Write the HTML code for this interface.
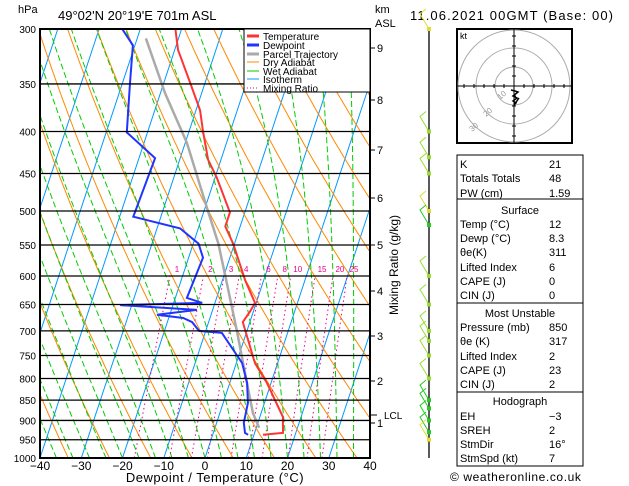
<!DOCTYPE html>
<html><head><meta charset="utf-8">
<style>
body{margin:0;background:#fff;}
svg{display:block;font-family:"Liberation Sans",sans-serif;}
</style></head>
<body>
<svg id="c" width="629" height="486" viewBox="0 0 629 486" xmlns="http://www.w3.org/2000/svg">
<defs><clipPath id="pc"><rect x="40" y="29" width="330" height="429"/></clipPath>
<clipPath id="hc"><rect x="457" y="29" width="115" height="114"/></clipPath></defs>
<g id="bg" clip-path="url(#pc)"></g>
<g id="iso" clip-path="url(#pc)"></g>
<g id="series" clip-path="url(#pc)"></g>
<g id="axes"></g>
<text x="18" y="13" font-size="11">hPa</text>
<text x="58" y="20" font-size="13">49°02'N  20°19'E  701m  ASL</text>
<text x="375" y="13" font-size="11">km</text>
<text x="375" y="27" font-size="11">ASL</text>
<text x="410" y="20" font-size="13" letter-spacing="1.1">11.06.2021  00GMT  (Base: 00)</text>
<text x="215" y="482" font-size="13" letter-spacing="0.5" text-anchor="middle">Dewpoint / Temperature (°C)</text>
<text transform="translate(398,265) rotate(-90)" font-size="12" text-anchor="middle">Mixing Ratio (g/kg)</text>
<g>
<rect x="244" y="29" width="126" height="63" fill="#fff" stroke="#000"/>
<line x1="247" y1="36" x2="259" y2="36" stroke="#f33" stroke-width="3"/><text x="263" y="40" font-size="10">Temperature</text>
<line x1="247" y1="45" x2="259" y2="45" stroke="#23f" stroke-width="3"/><text x="263" y="49" font-size="10">Dewpoint</text>
<line x1="247" y1="54" x2="259" y2="54" stroke="#aaa" stroke-width="3"/><text x="263" y="58" font-size="10">Parcel Trajectory</text>
<line x1="247" y1="62" x2="259" y2="62" stroke="#f80" stroke-width="1"/><text x="263" y="66" font-size="10">Dry Adiabat</text>
<line x1="247" y1="71" x2="259" y2="71" stroke="#0c0" stroke-width="1"/><text x="263" y="75" font-size="10">Wet Adiabat</text>
<line x1="247" y1="79" x2="259" y2="79" stroke="#09f" stroke-width="1"/><text x="263" y="83" font-size="10">Isotherm</text>
<line x1="247" y1="88" x2="259" y2="88" stroke="#e08" stroke-dasharray="1,2"/><text x="263" y="92" font-size="10">Mixing Ratio</text>
</g>
<g id="winds"></g>
<g>
<rect x="457" y="29" width="115" height="114" fill="#fff" stroke="#000" stroke-width="2"/>
<g clip-path="url(#hc)" fill="none" stroke="#aaa">
<circle cx="514" cy="86" r="19"/><circle cx="514" cy="86" r="38"/><circle cx="514" cy="86" r="56"/>
</g>
<line x1="457" y1="86" x2="572" y2="86" stroke="#000"/><line x1="514" y1="29" x2="514" y2="143" stroke="#000"/>
<g id="hticks" stroke="#000"></g>
<text x="460" y="39" font-size="9">kt</text>
<text transform="translate(500,100) rotate(-40)" font-size="8" fill="#999">10</text>
<text transform="translate(486,117) rotate(-40)" font-size="8" fill="#999">20</text>
<text transform="translate(472,132) rotate(-40)" font-size="8" fill="#999">30</text>
<polyline points="511,90 515,91 518,92 513,96 517,98 513,101 516,103 514,105 519,98" fill="none" stroke="#000" stroke-width="1.5"/>
</g>
<g id="tbl" font-size="11"></g>
<text x="450" y="481" font-size="12" letter-spacing="0.6">© weatheronline.co.uk</text>
<script>
// ---- data ----
const tempP=[300,318,349,377,399,433,455,502,522,548,607,647,663,683,718,766,810,891,932,937];
const tempT=[-41.5,-39.2,-33.6,-29.0,-26.7,-23.1,-19.6,-13.6,-13.6,-10.3,-4.5,-0.3,-0.8,-1.7,1.0,4.5,9.0,15.6,16.9,12.2];
const dewP=[300,314,349,401,431,508,525,548,570,638,647,651,660,669,675,683,700,704,766,810,857,906,932,937];
const dewT=[-54.4,-50.5,-48.2,-45.0,-36.1,-36.7,-24.4,-18.7,-16.5,-17.2,-13.1,-32.8,-13.8,-23.1,-16.5,-14.0,-11.6,-5.9,1.4,4.2,6.0,6.6,7.7,8.6];
const parcelP=[308,359,413,495,548,612,702,788,881,919];
const parcelT=[-47.9,-38.9,-29.6,-19.6,-13.9,-8.7,-2.3,2.9,8.0,10.7];
const pressureTicks=[300,350,400,450,500,550,600,650,700,750,800,850,900,950,1000];
const tempTicks=[-40,-30,-20,-10,0,10,20,30,40];
const kmTicks=[1,2,3,4,5,6,7,8,9];
const kmY=[423,381,336,291,245,198,150,100,48];
const mixRatios=[1,2,3,4,6,8,10,15,20,25];
const windP=[300,400,430,450,500,520,600,650,700,720,750,800,850,870,900,930,950];
const windColor=['#dd3','#9d3','#9d3','#9d3','#dd3','#2c2','#9d3','#9d3','#9d3','#9d3','#9d3','#9d3','#2c2','#2c2','#2c2','#2c2','#dd3'];
// ---- axes ----
const NS='http://www.w3.org/2000/svg';
const yOf=p=>29+Math.log(p/300)/Math.log(1000/300)*429;
const xOf=(T,p)=>40+(T+40)*4.125+(458-yOf(p))*0.33;
function mk(parent,tag,attrs){const e=document.createElementNS(NS,tag);for(const k in attrs)e.setAttribute(k,attrs[k]);document.getElementById(parent).appendChild(e);return e;}
function poly(parent,pts,stroke,w,dash,name){const e=mk(parent,'polyline',{points:pts.map(q=>q[0].toFixed(1)+','+q[1].toFixed(1)).join(' '),fill:'none',stroke:stroke,'stroke-width':w});if(dash)e.setAttribute('stroke-dasharray',dash);

return e;}
const ps=[];for(let p=1000;p>=300;p-=5)ps.push(p);
// isotherms
for(let T=-110;T<=40;T+=10){poly('bg',[[xOf(T,1000),yOf(1000)],[xOf(T,300),yOf(300)]],'#09f',1,null,'isotherm');}
// dry adiabats
for(let th=230;th<=480;th+=10){poly('bg',ps.map(p=>[xOf(th*Math.pow(p/1000,0.286)-273.15,p),yOf(p)]),'#f80',1,null,'dry-adiabat');}
// wet adiabats
function es(T){return 6.112*Math.exp(17.67*T/(T+243.5));}
for(let T0=-36;T0<=40;T0+=4){let T=T0+273.15,pts=[];for(let p=1000;p>=300;p-=5){pts.push([xOf(T-273.15,p),yOf(p)]);const rs=0.622*es(T-273.15)/(p-es(T-273.15));const dTdp=(287*T+2.5e6*rs)/(1004+2.5e6*2.5e6*rs*0.622/(287*T*T))/p;T-=dTdp*5;}
poly('bg',pts,'#0c0',1,'6,3','wet-adiabat');}
// mixing ratio
mixRatios.forEach(w=>{const pts=[];for(let p=1000;p>=600;p-=10){const e=w*p/(622+w);const l=Math.log(e/6.112);pts.push([xOf(243.5*l/(17.67-l),p),yOf(p)]);}
poly('bg',pts,'#e08',1,'1.5,3','mixing-ratio-line');
const t=mk('iso','text',{x:pts[pts.length-1][0]+7,y:272,'font-size':8,fill:'#e08','text-anchor':'middle'});t.textContent=w;

});
// pressure lines
pressureTicks.forEach(p=>{const l=mk('axes','line',{x1:40,x2:370,y1:yOf(p),y2:yOf(p),stroke:'#000','stroke-width':1.3});


const t=mk('axes','text',{x:36,y:yOf(p)+4,'font-size':10,'text-anchor':'end'});t.textContent=p;

});
tempTicks.forEach(T=>{const t=mk('axes','text',{x:40+(T+40)*4.125,y:470,'font-size':12,'text-anchor':'middle'});t.textContent=T===0?'0':(T<0?'\u2212'+(-T):T);

});
kmTicks.forEach((k,i)=>{mk('axes','line',{x1:370,x2:375,y1:kmY[i],y2:kmY[i],stroke:'#000'});const t=mk('axes','text',{x:377,y:kmY[i]+4,'font-size':11});t.textContent=k;

});
mk('axes','line',{x1:370,x2:377,y1:415,y2:415,stroke:'#000'});
const lcl=mk('axes','text',{x:384,y:419,'font-size':10});lcl.textContent='LCL';


const fr=mk('axes','rect',{x:40,y:29,width:330,height:429,fill:'none',stroke:'#000','stroke-width':2});


// series
poly('series',parcelP.map((p,i)=>[xOf(parcelT[i],p),yOf(p)]),'#aaa',2.5,null,'parcel-trajectory');
poly('series',dewP.map((p,i)=>[xOf(dewT[i],p),yOf(p)]),'#23f',2,null,'dewpoint-line');
poly('series',tempP.map((p,i)=>[xOf(tempT[i],p),yOf(p)]),'#f33',2,null,'temperature-line');
// wind column
const wl=mk('winds','line',{x1:429,x2:429,y1:29,y2:458,stroke:'#000','stroke-width':1.3});


windP.forEach((p,i)=>{const y=yOf(p);const c=windColor[i];
const b=mk('winds','polyline',{points:`429,${y} 420,${y-15} 426,${y-20}`,fill:'none',stroke:c});


mk('winds','rect',{x:427,y:y-2,width:4,height:4,fill:c});});
// hodo ticks
for(let i=-5;i<=5;i++){if(!i)continue;mk('hticks','line',{x1:514+i*10,x2:514+i*10,y1:84,y2:88});mk('hticks','line',{x1:512,x2:516,y1:86+i*10,y2:86+i*10});}
// table
const rows=[[164,'K','21'],[178,'Totals Totals','48'],[193,'PW (cm)','1.59'],[210,'Surface',null],[224,'Temp (°C)','12'],[238,'Dewp (°C)','8.3'],[252,'θe(K)','311'],[267,'Lifted Index','6'],[281,'CAPE (J)','0'],[295,'CIN (J)','0'],[313,'Most Unstable',null],[327,'Pressure (mb)','850'],[341,'θe (K)','317'],[356,'Lifted Index','2'],[370,'CAPE (J)','23'],[384,'CIN (J)','2'],[401,'Hodograph',null],[416,'EH','\u22123'],[430,'SREH','2'],[444,'StmDir','16°'],[458,'StmSpd (kt)','7']];
[[155,44],[199,104],[303,89],[392,74]].forEach(b=>mk('tbl','rect',{x:457,y:b[0],width:126,height:b[1],fill:'none',stroke:'#000'}));
rows.forEach(r=>{if(r[2]===null){const t=mk('tbl','text',{x:520,y:r[0]+4,'text-anchor':'middle'});t.textContent=r[1];

}
else{const t=mk('tbl','text',{x:460,y:r[0]+4});t.textContent=r[1];


const v=mk('tbl','text',{x:549,y:r[0]+4});v.textContent=r[2];

}});
</script>
</svg>
</body></html>
